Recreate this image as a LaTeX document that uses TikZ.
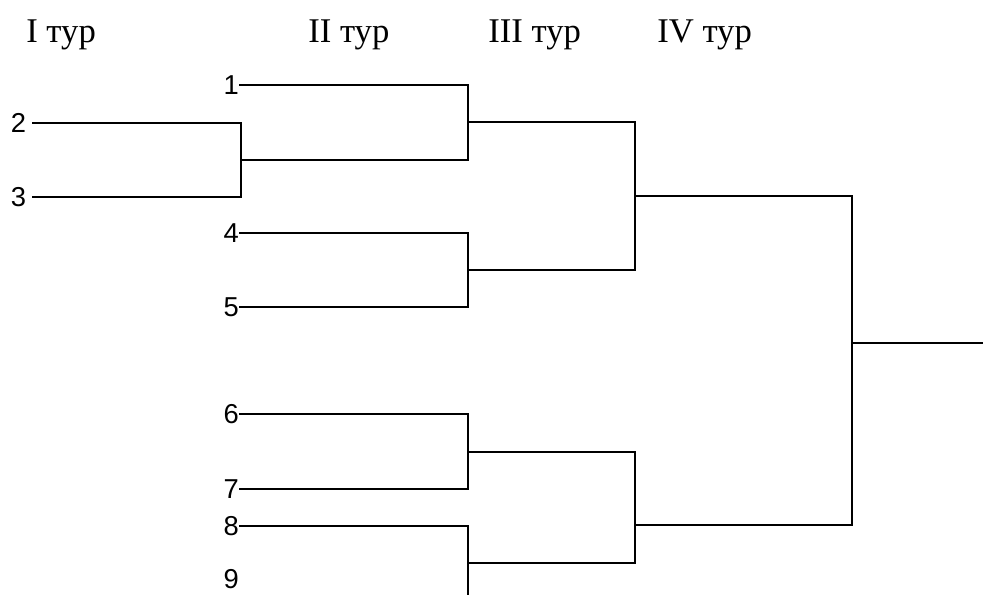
\documentclass[tikz,border=0pt]{standalone}
\usepackage{fontspec}
\setmainfont{Liberation Serif}
\newfontfamily\numfont{Liberation Sans}
\usetikzlibrary{calc}

\begin{document}
\begin{tikzpicture}[
  x=0.75pt, y=-0.75pt,
  round/.style={anchor=base west, inner sep=0pt, font=\fontsize{26}{30}\selectfont},
  seed/.style={anchor=east, inner xsep=0.6pt, inner ysep=0pt, font=\numfont\fontsize{20.5}{20.5}\selectfont},
  link/.style={line width=1.1pt, line cap=rect}
]
\useasboundingbox (0,0) rectangle (983,594);

% round headings
\node[round] (t1) at (26,42) {I тур};
\node[round] (t2) at (308,42) {II тур};
\node[round] (t3) at (488,42) {III тур};
\node[round] (t4) at (657,42) {IV тур};

% players
\node[seed, inner xsep=5pt] (n2) at (33,123) {2};
\node[seed, inner xsep=5pt] (n3) at (33,197) {3};
\node[seed] (n1) at (240,85) {1};
\node[seed] (n4) at (240,233) {4};
\node[seed] (n5) at (240,307) {5};
\node[seed] (n6) at (240,414) {6};
\node[seed] (n7) at (240,489) {7};
\node[seed] (n8) at (240,526) {8};
\node[seed] (n9) at (240,579) {9};

% junctions
\coordinate (j1) at (241,160);
\coordinate (j2) at (468,122);
\coordinate (j3) at (468,270);
\coordinate (j4) at (468,452);
\coordinate (j5) at (468,563);
\coordinate (cut) at (468,594);
\coordinate (k1) at (635,196);
\coordinate (k2) at (635,525);
\coordinate (m) at (852,343);
\coordinate (win) at (983,343);

% I round
\draw[link] (n2.east) -| (j1) |- (n3.east);
% II round
\draw[link] (n1.east) -| (j2) |- (j1);
\draw[link] (n4.east) -| (j3) |- (n5.east);
\draw[link] (n6.east) -| (j4) |- (n7.east);
\draw[link] (n8.east) -| (j5) -- (cut);
% III round
\draw[link] (j2) -| (k1) |- (j3);
\draw[link] (j4) -| (k2) |- (j5);
% IV round
\draw[link] (k1) -| (m) |- (k2);
\draw[link] (m) -- (win);
\end{tikzpicture}
\end{document}
